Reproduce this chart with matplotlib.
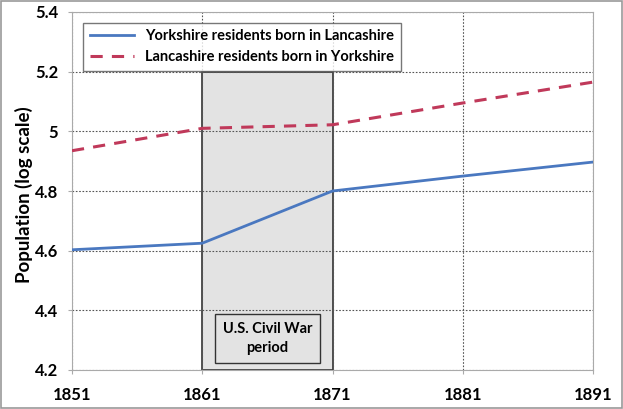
import matplotlib
matplotlib.use("Agg")
import matplotlib.pyplot as plt
from matplotlib.patches import Rectangle

years = [1851, 1861, 1871, 1881, 1891]
york_born_lanc = [4.603, 4.625, 4.80, 4.85, 4.897]
lanc_born_york = [4.935, 5.01, 5.022, 5.095, 5.165]
war_start, war_end = 1861, 1871

plt.rcParams['font.family'] = ['Lato', 'DejaVu Sans']
plt.rcParams['font.weight'] = 'bold'

fig = plt.figure(figsize=(6.23, 4.09), dpi=100)
ax = fig.add_axes([72 / 623, 1 - 370 / 409, (593 - 72) / 623, (370 - 12) / 409])

# civil war shading
ax.axvspan(war_start, war_end, ymin=0, ymax=(5.2 - 4.2) / 1.2, facecolor='#e3e3e3',
           edgecolor='#333333', linewidth=1.2, zorder=1)

ax.plot(years, york_born_lanc, color='#4a78c0', linewidth=2, zorder=3,
        label='Yorkshire residents born in Lancashire')
ax.plot(years, lanc_born_york, color='#c0395a', linewidth=2.2, linestyle=(0, (4, 3)),
        zorder=3, label='Lancashire residents born in Yorkshire')

ax.set_xlim(1851, 1891)
ax.set_ylim(4.2, 5.4)
ax.set_xticks(years)
ax.set_yticks([4.2, 4.4, 4.6, 4.8, 5.0, 5.2, 5.4])
ax.set_yticklabels(['4.2', '4.4', '4.6', '4.8', '5', '5.2', '5.4'])
ax.tick_params(labelsize=12, length=3, color='#aaaaaa')
ax.tick_params(axis='x', pad=9)
ax.tick_params(axis='y', pad=7)
for lbl in ax.get_xticklabels() + ax.get_yticklabels():
    lbl.set_fontweight('bold')

ax.grid(True, color='#555555', linestyle=(0, (1.5, 1.5)), linewidth=0.8, zorder=0)
for s in ax.spines.values():
    s.set_color('#aaaaaa')

ax.set_ylabel('Population (log scale)', fontsize=13.5, fontweight='bold')
ax.yaxis.set_label_coords(-0.074, 0.49)

ax.text(1866, 4.305, 'U.S. Civil War\nperiod', ha='center', va='center', fontsize=10.5,
        fontweight='bold', zorder=4, linespacing=1.4,
        bbox=dict(boxstyle='square,pad=0.55', facecolor='#e3e3e3', edgecolor='#333333', lw=1))

leg = ax.legend(loc='upper left', bbox_to_anchor=(0.008, 0.99), frameon=True,
                fancybox=False, edgecolor='#555555', handlelength=3.0,
                borderpad=0.45, labelspacing=0.45,
                prop={'weight': 'bold', 'size': 10.5})
leg.get_frame().set_linewidth(1)
leg.set_zorder(5)

# outer border
fig.patches.append(Rectangle((0.002, 0.002), 0.996, 0.996, transform=fig.transFigure,
                             fill=False, edgecolor='#999999', linewidth=1.2))

fig.savefig('out.png', dpi=100)
